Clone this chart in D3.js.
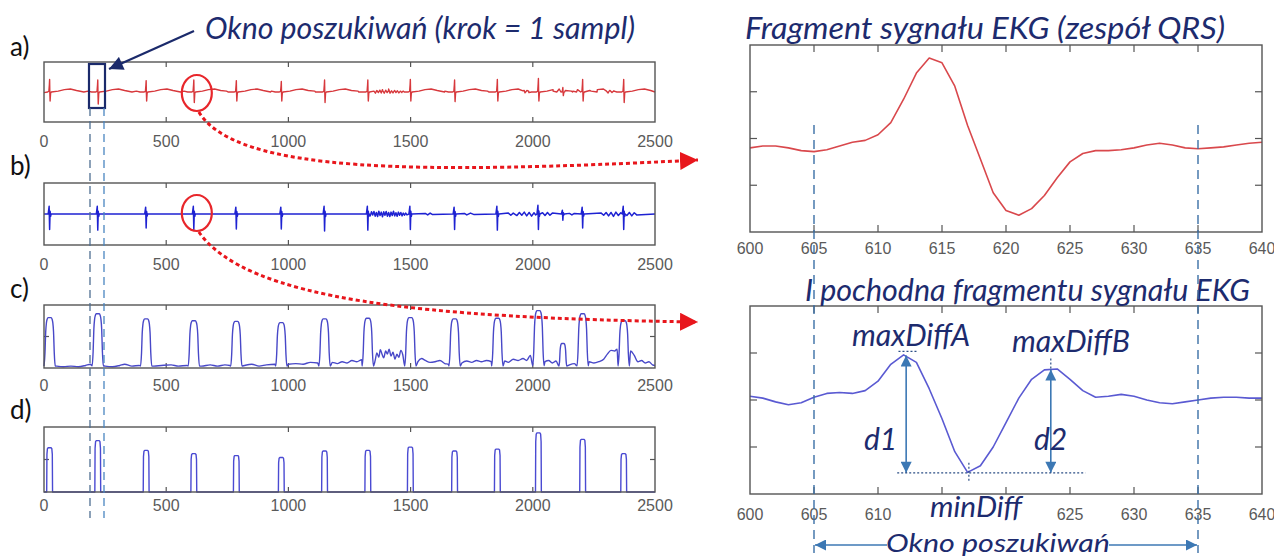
<!DOCTYPE html>
<html><head><meta charset="utf-8">
<script src="https://cdn.jsdelivr.net/npm/d3@7/dist/d3.min.js"></script>
<style>body{margin:0;background:#fff}svg{display:block}</style>
</head><body>
<svg id="fig" width="1274" height="556"></svg>
<script>
// ---------------- DATA ----------------
const leftTicks = [0, 500, 1000, 1500, 2000, 2500];
const rightTicks = [600, 605, 610, 615, 620, 625, 630, 635, 640];
const rightTicksLower = [600, 605, 610, 625, 630, 635, 640]; // 615/620 hidden by "minDiff"
const rightYTicks = [-0.5, 0, 0.5];
const envYTicks = [0.5];

// QRS positions (sample index) on the 2500-sample record
const beats     = [23, 220, 418, 613, 787, 971, 1148, 1325, 1499, 1680, 1855, 2023, 2123, 2204, 2372];
// a) ECG: R spike height and S depth
const ecgUp     = [0.42, 0.40, 0.38, 0.40, 0.38, 0.35, 0.40, 0.40, 0.42, 0.40, 0.42, 0.45, 0.15, 0.42, 0.42];
const ecgDown   = [0.30, 0.40, 0.30, 0.35, 0.30, 0.30, 0.35, 0.30, 0.30, 0.32, 0.30, 0.30, 0.12, 0.30, 0.35];
// b) first derivative: up and down excursions
const derUp     = [0.25, 0.25, 0.22, 0.25, 0.22, 0.22, 0.25, 0.25, 0.25, 0.22, 0.25, 0.28, 0.12, 0.22, 0.25];
const derDown   = [0.50, 0.52, 0.45, 0.50, 0.48, 0.48, 0.55, 0.52, 0.50, 0.50, 0.52, 0.50, 0.20, 0.45, 0.50];
// c) envelope peak heights (0..1 of the box)
const envPeak   = [0.80, 0.86, 0.78, 0.75, 0.74, 0.72, 0.78, 0.79, 0.80, 0.78, 0.79, 0.91, 0.39, 0.86, 0.75];
// d) detected pulses (null = rejected)
const detPeak   = [0.68, 0.79, 0.64, 0.59, 0.56, 0.53, 0.63, 0.64, 0.69, 0.63, 0.66, 0.91, null, 0.81, 0.59];

// shape templates: [offset, fraction of up, fraction of down]
const ecgSpikeShape = [[-8,0,0],[-3,0.06,0],[-1,0.6,0],[0,1,0],[1,0,0.2],[2,0,1],[4,0,0.12],[7,0,0]];
const ecgTShape     = [[35,0.03],[60,0.08],[85,0.10],[110,0.05],[140,0.0],[-40,0.03],[-25,0.0]];
const derSpikeShape = [[-6,0,0],[-2,1,0],[0,0,1],[2,0.35,0],[4,0,0.15],[6,0,0]];
const envPulseShape = [[-23,0.04],[-19,0.3],[-16,0.72],[-13,0.9],[-10,0.97],[-6,1],[6,1],[10,0.97],[13,0.9],[16,0.72],[19,0.3],[23,0.04]];
const detPulseShape = [[-12,0],[-11,0.85],[-9,0.98],[-6,1],[6,1],[9,0.98],[11,0.85],[12,0]];

// noise on ECG trace
const ecgNoise = [[1350,0.03],[1356,-0.04],[1362,0.05],[1368,-0.02],[1374,0.06],[1380,-0.03],[1386,0.05],[1392,-0.04],[1398,0.06],[1404,-0.02],[1410,0.05],[1416,-0.04],[1422,0.04],[1428,-0.03],[1434,0.05],[1440,-0.02],[1446,0.04],[1452,-0.03],[1458,0.03],[1464,-0.02],[1470,0.03],
  [1960,0.04],[1968,-0.03],[1976,0.05],[1984,-0.02],[2300,0.04],[2308,-0.03],[2316,0.05],[2324,-0.02],[2332,0.04]];
// noise on derivative trace
const derNoise = [[1330,0.04],[1335,-0.06],[1340,0.07],[1345,-0.03],[1350,0.08],[1355,-0.07],[1360,0.05],[1365,-0.08],[1370,0.09],[1375,-0.05],[1380,0.06],[1385,-0.09],[1390,0.07],[1395,-0.04],[1400,0.08],[1405,-0.07],[1410,0.05],[1415,-0.08],[1420,0.06],[1425,-0.05],[1430,0.09],[1435,-0.06],[1440,0.04],[1445,-0.07],[1450,0.06],[1455,-0.04],[1460,0.05],[1465,-0.06],[1470,0.03],[1475,-0.04],[1480,0.03],[1485,-0.03],
  [1560,0.02],[1570,-0.03],[1580,0.03],[1590,-0.02],[1720,0.02],[1730,-0.03],[1745,0.03],[1760,-0.02],
  [1900,0.03],[1910,-0.04],[1920,0.03],[1935,-0.05],[1945,0.05],[1955,-0.04],[1965,0.06],[1975,-0.06],[1985,0.05],[1995,-0.07],[2005,0.04],[2012,-0.03],
  [2040,0.04],[2050,-0.05],[2060,0.05],[2070,-0.04],[2080,0.03],[2150,0.02],[2160,-0.03],[2170,0.02],
  [2280,0.03],[2290,-0.04],[2300,0.05],[2310,-0.06],[2320,0.05],[2330,-0.08],[2340,0.06],[2350,-0.05],[2360,0.04],[2385,-0.05],[2395,0.05],[2405,-0.06],[2415,0.04],[2425,-0.03]];
// envelope baseline between pulses (0..1)
const envBase = [[0,0.0],[50,0.03],[80,0.02],[110,0.03],[140,0.02],[170,0.04],[190,0.06],
  [250,0.03],[280,0.02],[310,0.04],[330,0.06],[360,0.03],[390,0.04],
  [450,0.03],[480,0.04],[520,0.05],[550,0.03],[585,0.04],
  [645,0.03],[680,0.05],[710,0.03],[740,0.05],[760,0.04],
  [820,0.04],[850,0.06],[880,0.03],[910,0.05],[945,0.06],
  [1000,0.06],[1030,0.07],[1060,0.06],[1090,0.09],[1120,0.08],
  [1180,0.09],[1200,0.07],[1220,0.10],[1240,0.08],[1260,0.12],[1280,0.10],[1300,0.13],
  [1355,0.12],[1362,0.24],[1370,0.17],[1376,0.29],[1384,0.21],[1390,0.16],[1398,0.27],[1405,0.22],[1412,0.30],[1420,0.19],[1428,0.25],[1436,0.14],[1444,0.22],[1452,0.17],[1460,0.28],[1468,0.21],[1475,0.24],
  [1530,0.10],[1545,0.15],[1560,0.12],[1580,0.09],[1600,0.10],[1620,0.12],[1640,0.07],[1655,0.06],
  [1710,0.08],[1730,0.11],[1750,0.09],[1770,0.12],[1790,0.10],[1810,0.12],[1830,0.10],
  [1885,0.11],[1900,0.09],[1920,0.14],[1940,0.12],[1960,0.15],[1975,0.12],[1990,0.20],
  [2050,0.10],[2065,0.12],[2080,0.08],[2095,0.11],
  [2150,0.05],[2170,0.07],[2180,0.05],
  [2230,0.10],[2250,0.08],[2270,0.10],[2290,0.14],[2305,0.22],[2320,0.28],[2335,0.27],[2345,0.30],
  [2400,0.27],[2415,0.20],[2430,0.10],[2445,0.12],[2460,0.08],[2475,0.10],[2490,0.05],[2500,0.04]];

// right panels: samples 600..640
const fragX   = d3.range(600, 641);
const fragEcg = [-0.10,-0.08,-0.08,-0.10,-0.13,-0.14,-0.12,-0.08,-0.04,-0.02,0.04,0.17,0.42,0.70,0.86,0.81,0.56,0.14,-0.22,-0.58,-0.77,-0.82,-0.75,-0.61,-0.42,-0.25,-0.16,-0.13,-0.13,-0.12,-0.10,-0.07,-0.05,-0.07,-0.10,-0.11,-0.10,-0.09,-0.07,-0.05,-0.04];
const fragDer = [0.04,0.02,-0.02,-0.05,-0.03,0.03,0.07,0.08,0.07,0.10,0.20,0.38,0.48,0.40,0.12,-0.20,-0.55,-0.77,-0.70,-0.50,-0.24,0.02,0.22,0.32,0.33,0.22,0.10,0.03,0.04,0.06,0.04,0.00,-0.03,-0.04,-0.02,0.00,0.02,0.03,0.03,0.02,0.02];
const maxDiffA = {x: 612.2, v: 0.485};
const maxDiffB = {x: 623.5, v: 0.335};
const minDiff  = {x: 617.1, v: -0.775};
const searchWin = [605, 635];

// ---------------- DRAWING ----------------
const svg = d3.select('#fig');
const defs = svg.append('defs');
function marker(id, color, w, h) {
  defs.append('marker').attr('id', id).attr('markerUnits', 'userSpaceOnUse')
    .attr('viewBox', '0 0 10 10').attr('refX', 10).attr('refY', 5)
    .attr('markerWidth', w).attr('markerHeight', h).attr('orient', 'auto-start-reverse')
    .append('path').attr('d', 'M0,0 L10,5 L0,10 z').attr('fill', color);
}
marker('mRed', '#e8161c', 18, 18);
marker('mNavy', '#1b2a6b', 16, 14);
marker('mBlue', '#3c78b4', 12, 11);

const frameCol = '#555';
const tickFont = '"Liberation Sans", Arial, sans-serif';
const annFont = 'Lato, "Open Sans", sans-serif';
const navy = '#1d2b6e';

function panel(box, xdom, ydom, xt, yt, labelDy, labelTicks) {
  const x = d3.scaleLinear().domain(xdom).range([box.x0, box.x1]);
  const y = d3.scaleLinear().domain(ydom).range([box.y1, box.y0]);
  const g = svg.append('g');
  const tl = box.tl || 5;
  const inner = xt.filter(t => t > xdom[0] && t < xdom[1]);
  g.selectAll('.tb').data(inner).join('line').attr('class', 'tb')
    .attr('x1', d => x(d)).attr('x2', d => x(d)).attr('y1', box.y1).attr('y2', box.y1 - tl)
    .attr('stroke', frameCol).attr('stroke-width', 1.2);
  g.selectAll('.tt').data(inner).join('line').attr('class', 'tt')
    .attr('x1', d => x(d)).attr('x2', d => x(d)).attr('y1', box.y0).attr('y2', box.y0 + tl)
    .attr('stroke', frameCol).attr('stroke-width', 1.2);
  g.selectAll('.yl').data(yt).join('line').attr('class', 'yl')
    .attr('x1', box.x0).attr('x2', box.x0 + tl).attr('y1', d => y(d)).attr('y2', d => y(d))
    .attr('stroke', frameCol).attr('stroke-width', 1.2);
  g.selectAll('.yr').data(yt).join('line').attr('class', 'yr')
    .attr('x1', box.x1).attr('x2', box.x1 - tl).attr('y1', d => y(d)).attr('y2', d => y(d))
    .attr('stroke', frameCol).attr('stroke-width', 1.2);
  g.selectAll('text').data(labelTicks || xt).join('text')
    .attr('x', d => x(d)).attr('y', box.y1 + labelDy).attr('text-anchor', 'middle')
    .attr('font-family', tickFont).attr('font-size', 16).attr('fill', '#5a5a5a')
    .text(d => d);
  return {x, y, g, box};
}
function frame(p) {
  svg.append('rect').attr('x', p.box.x0).attr('y', p.box.y0)
    .attr('width', p.box.x1 - p.box.x0).attr('height', p.box.y1 - p.box.y0)
    .attr('fill', 'none').attr('stroke', frameCol).attr('stroke-width', 1.4);
}
function trace(p, pts, color, w, curve) {
  const dom = p.y.domain();
  const line = d3.line().x(d => p.x(d[0])).y(d => p.y(Math.max(dom[0], Math.min(dom[1], d[1]))));
  if (curve) line.curve(curve);
  svg.append('path').datum(pts).attr('d', line).attr('fill', 'none')
    .attr('stroke', color).attr('stroke-width', w).attr('stroke-linejoin', 'round');
}
function merge(base, spikes, win) {
  const keep = base.filter(b => !beats.some(bt => Math.abs(b[0] - bt) <= win));
  return keep.concat(spikes).sort((a, b) => a[0] - b[0]);
}

const L = {x0: 44, x1: 655};
const pA = panel({...L, y0: 62, y1: 122}, [0, 2500], [-1, 1], leftTicks, [], 25);
const pB = panel({...L, y0: 183, y1: 245}, [0, 2500], [-1, 1], leftTicks, [], 25);
const pC = panel({...L, y0: 305, y1: 368}, [0, 2500], [0, 1], leftTicks, envYTicks, 23);
const pD = panel({...L, y0: 427, y1: 492}, [0, 2500], [0, 1], leftTicks, envYTicks, 19);

// a) ECG
{
  let pts = [[0, -0.02], [2500, 0.0]].concat(ecgNoise);
  let spikes = [];
  beats.forEach((b, i) => {
    ecgTShape.forEach(t => pts.push([b + t[0], t[1]]));
    ecgSpikeShape.forEach(s => spikes.push([b + s[0], s[1] * ecgUp[i] - s[2] * ecgDown[i]]));
  });
  pts = merge(pts, spikes, 8).filter(p => p[0] >= 0 && p[0] <= 2500);
  trace(pA, pts, '#d7383c', 1.4);
}
// b) derivative
{
  let spikes = [];
  beats.forEach((b, i) => derSpikeShape.forEach(s => spikes.push([b + s[0], s[1] * derUp[i] - s[2] * derDown[i]])));
  const base = [[0, 0], [2500, 0]].concat(derNoise);
  trace(pB, merge(base, spikes, 6).filter(p => p[0] >= 0), '#1e22d2', 1.5);
}
// c) envelope
{
  let pulses = [];
  beats.forEach((b, i) => {
    const shape = i === 12 ? envPulseShape.map(s => [s[0] * 0.7, s[1]]) : envPulseShape;
    shape.forEach(s => pulses.push([b + s[0], Math.max(0.03, s[1] * envPeak[i])]));
  });
  trace(pC, merge(envBase, pulses, 24).filter(p => p[0] >= 0), '#4848c8', 1.4, d3.curveMonotoneX);
}
// d) detection
{
  let pulses = [];
  beats.forEach((b, i) => { if (detPeak[i] != null) detPulseShape.forEach(s => pulses.push([b + s[0], s[1] * detPeak[i]])); });
  const pts = [[0, 0]].concat(pulses.filter(p => p[0] >= 0)).concat([[2500, 0]]);
  trace(pD, pts, '#4a4ad2', 1.4);
}
[pA, pB, pC, pD].forEach(frame);

// right panels
const R = {x0: 750, x1: 1262, tl: 7};
const pR1 = panel({...R, y0: 45, y1: 232}, [600, 640], [-1, 1], rightTicks, rightYTicks, 22);
const pR2 = panel({...R, y0: 306, y1: 494}, [600, 640], [-1, 1], rightTicks, rightYTicks, 26, rightTicksLower);
trace(pR1, fragX.map((v, i) => [v, fragEcg[i]]), '#d9484c', 1.6);
trace(pR2, fragX.map((v, i) => [v, fragDer[i]]), '#5a5ad2', 1.6);
frame(pR1); frame(pR2);

// ---------- annotations ----------
function txt(x, y, s, size, opt = {}) {
  const t = svg.append('text').attr('x', x).attr('y', y).text(s)
    .attr('font-family', opt.family || annFont).attr('font-size', size)
    .attr('font-style', opt.style || 'italic').attr('fill', opt.fill || navy)
    .attr('text-anchor', opt.anchor || 'start');
  if (opt.len) t.attr('textLength', opt.len).attr('lengthAdjust', 'spacingAndGlyphs');
  return t;
}
const plain = {style: 'normal', fill: '#111'};
txt(10, 56, 'a)', 26, plain);
txt(10, 175, 'b)', 26, plain);
txt(10, 298, 'c)', 26, plain);
txt(10, 419, 'd)', 26, plain);
txt(205, 39, 'Okno poszukiwań (krok = 1 sampl)', 30, {len: 430});
txt(745, 39, 'Fragment sygnału EKG (zespół QRS)', 31, {len: 480});
txt(805, 301, 'I pochodna fragmentu sygnału EKG', 30, {len: 445});

// search window box in a) and dashed guides
const wx0 = 89, wx1 = 105;
svg.append('rect').attr('x', wx0).attr('y', 64).attr('width', wx1 - wx0).attr('height', 44)
  .attr('fill', 'none').attr('stroke', '#1b2a6b').attr('stroke-width', 2.2);
[[wx0 + 1, '#4f6f92'], [wx1 - 1, '#4a86c0']].forEach(([xx, c]) =>
  svg.append('line').attr('x1', xx).attr('x2', xx).attr('y1', 108).attr('y2', 518)
    .attr('stroke', c).attr('stroke-width', 1.3).attr('stroke-dasharray', '8,5'));
svg.append('line').attr('x1', 194).attr('y1', 31).attr('x2', 109).attr('y2', 69)
  .attr('stroke', '#1b2a6b').attr('stroke-width', 2.2).attr('marker-end', 'url(#mNavy)');

// red circles
const cx = pA.x(613) + 3;
[93, 213].forEach(cy => svg.append('ellipse').attr('cx', cx).attr('cy', cy).attr('rx', 15).attr('ry', 18)
  .attr('fill', 'none').attr('stroke', '#e8262b').attr('stroke-width', 2.2));
// red dotted curved arrows
svg.append('path').attr('d', `M${cx + 2},112 C${cx + 40},174 420,174 698,160`)
  .attr('fill', 'none').attr('stroke', '#e8161c').attr('stroke-width', 3).attr('stroke-dasharray', '4,3')
  .attr('marker-end', 'url(#mRed)');
svg.append('path').attr('d', `M${cx + 2},232 C${cx + 50},300 420,318 698,322`)
  .attr('fill', 'none').attr('stroke', '#e8161c').attr('stroke-width', 3).attr('stroke-dasharray', '4,3')
  .attr('marker-end', 'url(#mRed)');

// right dashed window lines
searchWin.forEach(s => svg.append('line').attr('x1', pR1.x(s)).attr('x2', pR1.x(s)).attr('y1', 125).attr('y2', 553)
  .attr('stroke', '#3b6fa6').attr('stroke-width', 1.4).attr('stroke-dasharray', '9,6'));

// d1 / d2 arrows and dotted guides
const blue = '#3c78b4';
const xr = pR2.x, yr = pR2.y;
[maxDiffA, maxDiffB].forEach(m =>
  svg.append('line').attr('x1', xr(m.x)).attr('x2', xr(m.x)).attr('y1', yr(m.v) + 1).attr('y2', yr(minDiff.v))
    .attr('stroke', blue).attr('stroke-width', 1.6)
    .attr('marker-start', 'url(#mBlue)').attr('marker-end', 'url(#mBlue)'));
const dot = (x1, y1, x2, y2) => svg.append('line').attr('x1', x1).attr('y1', y1).attr('x2', x2).attr('y2', y2)
  .attr('stroke', '#2c4f86').attr('stroke-width', 1.2).attr('stroke-dasharray', '2,2');
dot(xr(611.5), yr(minDiff.v), xr(626.2), yr(minDiff.v));
dot(xr(611.6), yr(maxDiffA.v) - 3, xr(613.1), yr(maxDiffA.v) - 3);
dot(xr(minDiff.x), yr(minDiff.v) - 10, xr(minDiff.x), yr(minDiff.v) + 8);
dot(xr(maxDiffB.x), yr(maxDiffB.v) - 10, xr(maxDiffB.x), yr(maxDiffB.v) + 2);

txt(852, 346, 'maxDiffA', 30, {len: 118});
txt(1012, 352, 'maxDiffB', 30, {len: 118});
txt(864, 450, 'd1', 30);
txt(1034, 450, 'd2', 30);
txt(930, 517, 'minDiff', 28, {len: 92});
txt(998, 552, 'Okno poszukiwań', 25, {anchor: 'middle', len: 224});
// bottom double arrow
const bx0 = pR2.x(605), bx1 = pR2.x(635);
svg.append('line').attr('x1', bx0 + 1).attr('x2', 887).attr('y1', 545).attr('y2', 545)
  .attr('stroke', blue).attr('stroke-width', 1.6).attr('marker-start', 'url(#mBlue)');
svg.append('line').attr('x1', 1109).attr('x2', bx1 - 1).attr('y1', 545).attr('y2', 545)
  .attr('stroke', blue).attr('stroke-width', 1.6).attr('marker-end', 'url(#mBlue)');
</script>
</body></html>
